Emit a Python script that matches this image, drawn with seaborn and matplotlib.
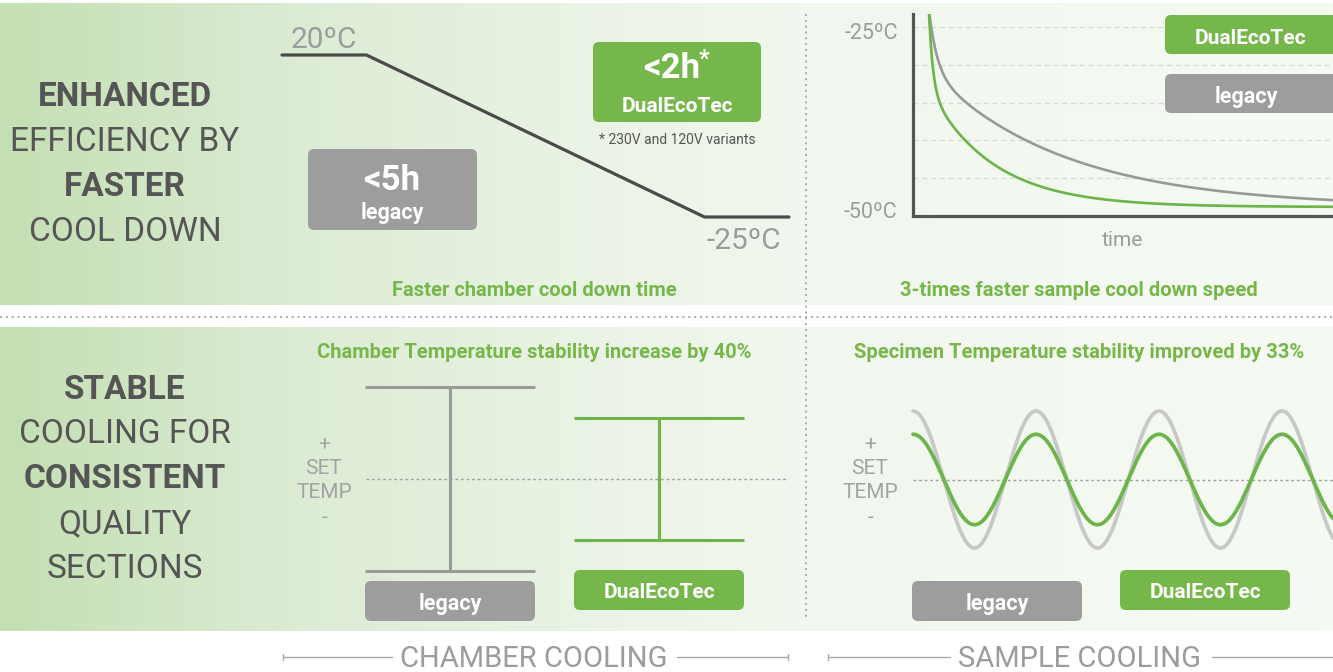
import numpy as np
import matplotlib
matplotlib.use('Agg')
import matplotlib.pyplot as plt
import seaborn as sns
from matplotlib.colors import LinearSegmentedColormap
from matplotlib.patches import FancyBboxPatch
from matplotlib.transforms import ScaledTranslation

W, H = 1333, 672

# chamber cool down profile (time in steps, temperature in ºC)
chamber_time = [0, 1, 5, 6]
chamber_temp = [20, 20, -25, -25]

# sample cool down toward -50 ºC: (amplitude ºC, time constant) per phase
sample_end = -50
legacy_decay = [(8.3, 8), (19.0, 135)]
dualeco_decay = [(10.5, 4), (16.3, 64)]
sample_grid = [-25, -30.25, -35.5, -40.75, -46]

# stability: deviation around set temperature (legacy = 1)
systems = ['legacy', 'DualEcoTec']
chamber_dev = [1.0, 0.66]
sample_amp = [1.0, 0.66]
sample_period = 123

top_lines = [('ENHANCED', 'bold'), ('EFFICIENCY BY', 'normal'),
             ('FASTER', 'bold'), ('COOL DOWN', 'normal')]
bottom_lines = [('STABLE', 'bold'), ('COOLING FOR', 'normal'), ('CONSISTENT', 'bold'),
                ('QUALITY', 'normal'), ('SECTIONS', 'normal')]

GREEN = '#76b74b'
GREEN_TXT = '#77b74a'
GRAY_BOX = '#9d9d9d'
DARK = '#555555'
LIGHT = '#9c9c9c'

sns.set_theme(style='white')
plt.rcParams['font.family'] = ['Roboto', 'DejaVu Sans']

fig = plt.figure(figsize=(13.33, 6.72), dpi=100)


def px_axes(x0, y0, x1, y1):
    ax = fig.add_axes([x0 / W, 1 - y1 / H, (x1 - x0) / W, (y1 - y0) / H])
    ax.patch.set_alpha(0)
    return ax


# background
bg = fig.add_axes([0, 0, 1, 1])
bg.set_zorder(-5)
cmap = LinearSegmentedColormap.from_list('band', [
    (0.0, '#c4dfb3'), (0.21, '#dbebd3'), (0.42, '#e9f3e4'),
    (0.6, '#f1f7ee'), (1.0, '#f5faf3')])
grad = np.linspace(0, 1, 400)[None, :]
bg.imshow(grad, cmap=cmap, extent=[0, W, 305, 3], aspect='auto')
bg.imshow(grad, cmap=cmap, extent=[0, W, 631, 327], aspect='auto')
bg.set_xlim(0, W)
bg.set_ylim(H, 0)
bg.axis('off')

# top middle: chamber cool down
ax1 = px_axes(282, 55, 789, 217)
sns.lineplot(x=chamber_time, y=chamber_temp, ax=ax1, color='#4a4a4a', lw=2.3,
             clip_on=False)
ax1.set_xlim(0, 6)
ax1.set_ylim(-25, 20)
ax1.axis('off')

# top right: sample cool down
ax2 = px_axes(913, 14, 1333, 216)
t = np.linspace(0, 404, 600)
legacy_curve = sample_end + sum(a * np.exp(-t / tau) for a, tau in legacy_decay)
dualeco_curve = sample_end + sum(a * np.exp(-t / tau) for a, tau in dualeco_decay)
ax2.hlines(sample_grid, -16, 404, colors='#d3dccf', linestyles=(0, (4, 3)), lw=0.9)
sns.lineplot(x=t, y=legacy_curve, ax=ax2, color='#999999', lw=1.9)
sns.lineplot(x=t, y=dualeco_curve, ax=ax2, color='#6db44a', lw=1.9)
ax2.set_xlim(-16, 404)
ax2.set_ylim(-51.25, -23.19)
for s in ['top', 'right']:
    ax2.spines[s].set_visible(False)
for s in ['left', 'bottom']:
    ax2.spines[s].set_color(DARK)
    ax2.spines[s].set_linewidth(2.3)
ax2.set_xticks([])
ax2.set_yticks([-25, -50], ['-25ºC', '-50ºC'])
ax2.tick_params(axis='y', length=0, pad=11, labelsize=15.5, labelcolor=LIGHT)
for lab in ax2.get_yticklabels():
    lab.set_transform(lab.get_transform() + ScaledTranslation(0, -2.5 / 72, fig.dpi_scale_trans))
ax2.set_xlabel('time', color=LIGHT, fontsize=15, labelpad=11)

# bottom middle: chamber stability
ax3 = px_axes(366, 387, 789, 571)
ax3.axhline(0, color='#a0a0a0', ls=(0, (2, 2)), lw=1)
for i, (dev, col) in enumerate(zip(chamber_dev, ['#9a9a9a', '#6db44a'])):
    ax3.errorbar([i], [0], yerr=[dev], fmt='none', ecolor=col, elinewidth=2.2,
                 capsize=61.5, capthick=2.2, clip_on=False)
ax3.set_xlim(-0.402, 1.622)
ax3.set_ylim(-1, 1)
ax3.axis('off')

# bottom right: sample stability
ax4 = px_axes(913, 411, 1333, 548)
ts = np.linspace(0, 420, 800)
ax4.axhline(0, color='#a0a0a0', ls=(0, (2, 2)), lw=1)
sns.lineplot(x=ts, y=sample_amp[0] * np.cos(2 * np.pi * ts / sample_period), ax=ax4,
             color='#c8c8c8', lw=2.7, clip_on=False)
sns.lineplot(x=ts, y=sample_amp[1] * np.cos(2 * np.pi * ts / sample_period), ax=ax4,
             color='#6db44a', lw=2.7, clip_on=False)
ax4.set_xlim(0, 420)
ax4.set_ylim(-1, 1)
ax4.axis('off')

# overlay: text and labels
ov = fig.add_axes([0, 0, 1, 1])
ov.set_zorder(10)
ov.patch.set_alpha(0)
ov.set_xlim(0, W)
ov.set_ylim(H, 0)
ov.axis('off')


def box(x0, y0, x1, y1, color):
    ov.add_patch(FancyBboxPatch((x0, y0), x1 - x0, y1 - y0,
                                boxstyle='round,pad=0,rounding_size=6',
                                fc=color, ec='none'))


def txt(x, y, s, size, color, weight='normal', **kw):
    ov.text(x, y + 3, s, fontsize=size, color=color, fontweight=weight,
            ha='center', va='center', **kw)


for (s, w), y in zip(top_lines, [94, 139, 184, 229]):
    txt(125, y, s, 24, DARK, w)
for (s, w), y in zip(bottom_lines, [387, 431, 476, 521, 566]):
    txt(125, y, s, 24, DARK, w)

# top middle labels
txt(324, 37, '20ºC', 21.5, LIGHT)
txt(744, 238, '-25ºC', 21.5, LIGHT)
box(593, 42, 761, 122, GREEN)
txt(672, 65, '<2h', 25, 'white', 'bold')
ov.text(699, 59, '*', fontsize=17, color='white', fontweight='bold', ha='left', va='center')
txt(677, 103, 'DualEcoTec', 15, 'white', 'bold')
txt(677, 137, '* 230V and 120V variants', 10, DARK)
box(308, 149, 477, 230, GRAY_BOX)
txt(392, 178, '<5h', 25, 'white', 'bold')
txt(392, 210, systems[0], 15.5, 'white', 'bold')
txt(534, 287, 'Faster chamber cool down time', 14.5, GREEN_TXT, 'bold')

# top right labels
box(1165, 15, 1345, 54, GREEN)
txt(1250, 35, systems[1], 15, 'white', 'bold')
box(1165, 74, 1345, 113, GRAY_BOX)
txt(1246, 94, systems[0], 15.5, 'white', 'bold')
txt(1079, 287, '3-times faster sample cool down speed', 14.5, GREEN_TXT, 'bold')

# bottom titles and legend boxes
txt(534, 350, 'Chamber Temperature stability increase by 40%', 14.5, GREEN_TXT, 'bold')
txt(1079, 350, 'Specimen Temperature stability improved by 33%', 14.5, GREEN_TXT, 'bold')
for x in [324, 870]:
    for s, y in zip(['+', 'SET', 'TEMP', '-'], [441, 465, 489, 514]):
        txt(x, y, s, 15, '#a3a3a3')
for x0, y0, name, col in [(365, 581, systems[0], GRAY_BOX), (574, 570, systems[1], GREEN),
                          (912, 581, systems[0], GRAY_BOX), (1120, 570, systems[1], GREEN)]:
    box(x0, y0, x0 + 170, y0 + 40, col)
    txt(x0 + 85, y0 + 20, name, 15.5 if name == 'legacy' else 15, 'white', 'bold')

# separators
ov.plot([0, W], [317, 317], color='#aaaaaa', ls=(0, (1, 2)), lw=1.4)
ov.plot([806, 806], [14, 620], color='#aaaaaa', ls=(0, (1, 2)), lw=1.4)

# section captions
for label, cx, segs in [('CHAMBER COOLING', 534, [(283, 392), (677, 788)]),
                        ('SAMPLE COOLING', 1079, [(828, 950), (1212, 1340)])]:
    txt(cx, 656, label, 21, LIGHT)
    for a, b in segs:
        ov.plot([a, b], [657, 657], color='#aaaaaa', lw=1)
    for xe in [segs[0][0], segs[1][1]]:
        ov.plot([xe, xe], [654, 660], color='#aaaaaa', lw=1)

fig.savefig('out.png', dpi=100)
